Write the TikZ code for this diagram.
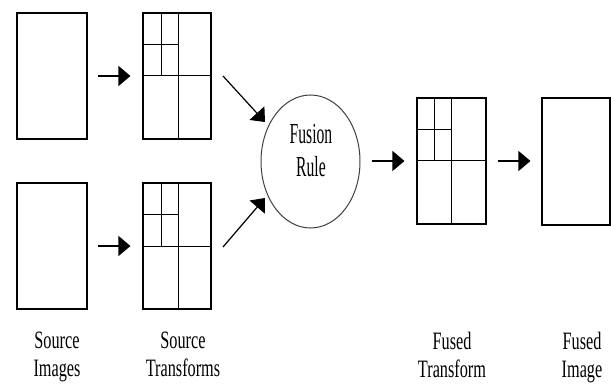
\documentclass[tikz,border=0pt]{standalone}
\usepackage{fontspec}
\newfontfamily\labfont[FakeStretch=0.65]{Liberation Serif}
\newfontfamily\rulefont[FakeStretch=0.54]{Liberation Serif}
\usetikzlibrary{arrows.meta,shapes.geometric}
\begin{document}
\begin{tikzpicture}[x=1pt,y=-1pt,
  box/.style={draw=black,line width=1.1pt,rectangle,inner sep=0pt,minimum width=#1},
  grid/.style={draw=black,line width=1pt},
  arr/.style={draw=black,line width=1.2pt,-{Triangle[length=12pt,width=20pt]}},
  lab/.style={anchor=north,inner sep=0pt,align=center,font=\labfont\fontsize{25}{27.5}\selectfont},
]
\useasboundingbox (0,0) rectangle (611,385);
% source images
\node[box=70pt,minimum height=126pt] (src1) at (52,76) {};
\node[box=70pt,minimum height=126pt] (src2) at (52,246) {};
% source transforms
\node[box=68pt,minimum height=126pt] (tr1) at (177,76) {};
\node[box=68pt,minimum height=126pt] (tr2) at (177,246) {};
\draw[grid] (tr1.west) -- (tr1.east);
\draw[grid] (tr1.north) ++(1,0) coordinate (t1a) -- (t1a |- tr1.south);
\draw[grid] (161,13) -- (161,76);
\draw[grid] (143,45) -- (178,45);
\draw[grid] (tr2.west) -- (tr2.east);
\draw[grid] (tr2.north) ++(1,0) coordinate (t2a) -- (t2a |- tr2.south);
\draw[grid] (161,183) -- (161,246);
\draw[grid] (143,215) -- (178,215);
% fusion rule
\node[ellipse,draw=black!75,line width=1pt,minimum width=99pt,minimum height=133pt,inner sep=0pt] (fr) at (310.5,161.5) {};
\node[anchor=north,inner sep=0pt,align=center,font=\rulefont\fontsize{29}{33}\selectfont] (frt) at (311,124) {Fusion\\Rule};
% fused transform
\node[box=69pt,minimum height=126pt] (ft) at (451.5,161) {};
\draw[grid] (ft.west) -- (ft.east);
\draw[grid] (451,98) -- (451,224);
\draw[grid] (434,98) -- (434,161);
\draw[grid] (417,130) -- (451,130);
% fused image
\node[box=68pt,minimum height=127pt] (fi) at (576,161.5) {};
% arrows
\draw[arr,shorten <=10pt,shorten >=12pt] (src1.east) -- (tr1.west);
\draw[arr,shorten <=10pt,shorten >=12pt] (src2.east) -- (tr2.west);
\coordinate (d1s) at (223,76);
\coordinate (d1e) at (265,122);
\coordinate (d2s) at (223,247);
\coordinate (d2e) at (265,198);
\draw[arr] (d1s) -- (d1e);
\draw[arr] (d2s) -- (d2e);
\draw[arr,shorten <=11pt,shorten >=12pt] (fr.east |- ft.west) -- (ft.west);
\draw[arr,shorten <=11pt,shorten >=11pt] (ft.east) -- (fi.west |- ft.east);
% labels
\node[lab] (l1) at (57,332) {Source\\Images};
\node[lab] (l2) at (183,332) {Source\\Transforms};
\node[lab] (l3) at (452,332) {Fused\\Transform};
\node[lab] (l4) at (582,332) {Fused\\Image};
\end{tikzpicture}
\end{document}
